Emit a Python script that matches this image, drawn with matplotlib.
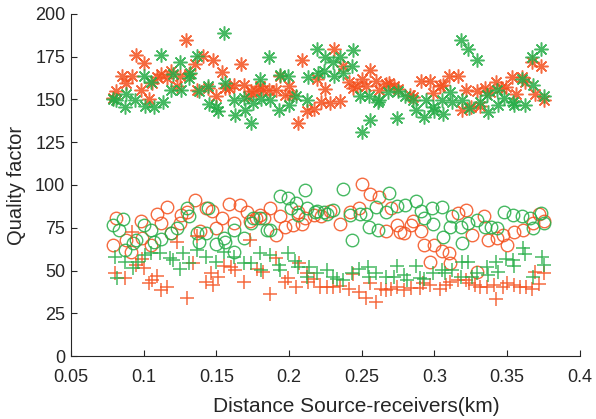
# Quality factor vs. source-receiver distance, two colour groups, three marker families
import matplotlib.pyplot as plt

plt.rcParams['font.family'] = ['Liberation Sans', 'DejaVu Sans']

red = '#f4511e'
green = '#26ad47'

# --- asterisks (upper band) ---
red_star_x = [0.079, 0.081, 0.085, 0.088, 0.092, 0.095, 0.098, 0.100, 0.104, 0.106, 0.109, 0.112, 0.116, 0.119,
              0.125, 0.123, 0.129, 0.131, 0.135, 0.137, 0.141, 0.144, 0.148, 0.150, 0.154, 0.156, 0.159, 0.162,
              0.167, 0.169, 0.172, 0.174, 0.177, 0.180, 0.182, 0.186, 0.191, 0.194, 0.197, 0.200, 0.202, 0.206,
              0.209, 0.212, 0.217, 0.219, 0.222, 0.225, 0.228, 0.231, 0.235, 0.237, 0.241, 0.244, 0.247, 0.250,
              0.253, 0.256, 0.260, 0.262, 0.267, 0.269, 0.272, 0.275, 0.283, 0.285, 0.291, 0.297, 0.299, 0.304,
              0.306, 0.310, 0.316, 0.319, 0.322, 0.325, 0.329, 0.331, 0.335, 0.338, 0.342, 0.346, 0.349, 0.353,
              0.356, 0.360, 0.362, 0.367, 0.369, 0.373, 0.375]
red_star_y = [150.8, 154.7, 163.9, 159.6, 163.5, 176.2, 155.7, 171.3, 150.3, 159.6, 163.1, 165.1, 162.5, 166.4,
              163.5, 157.7, 185.0, 165.1, 170.4, 155.7, 175.6, 156.7, 172.9, 152.2, 165.9, 156.7, 156.7, 158.6,
              170.9, 158.6, 152.2, 154.7, 154.7, 157.7, 155.7, 155.7, 155.7, 163.9, 152.8, 157.7, 152.8, 136.2,
              172.9, 143.0, 144.4, 161.9, 148.3, 156.1, 147.9, 179.5, 148.9, 169.4, 160.0, 156.7, 158.1, 161.9,
              157.7, 167.4, 160.6, 155.7, 159.2, 159.6, 158.1, 156.1, 152.8, 151.4, 160.6, 160.6, 153.8, 157.7,
              158.6, 163.9, 163.9, 143.6, 155.3, 145.6, 154.7, 146.4, 156.7, 154.2, 160.0, 156.7, 157.3, 163.1,
              153.4, 163.1, 160.0, 171.7, 153.4, 169.4, 149.9]

green_star_x = [0.079, 0.081, 0.087, 0.088, 0.094, 0.100, 0.101, 0.105, 0.107, 0.112, 0.113, 0.119, 0.120, 0.125,
                0.126, 0.131, 0.132, 0.137, 0.138, 0.144, 0.145, 0.150, 0.151, 0.155, 0.156, 0.162, 0.163, 0.169,
                0.170, 0.174, 0.175, 0.180, 0.181, 0.186, 0.187, 0.193, 0.194, 0.199, 0.200, 0.205, 0.212, 0.213,
                0.219, 0.220, 0.224, 0.225, 0.230, 0.231, 0.235, 0.237, 0.243, 0.244, 0.249, 0.250, 0.255, 0.256,
                0.261, 0.262, 0.268, 0.274, 0.275, 0.280, 0.285, 0.287, 0.293, 0.294, 0.299, 0.300, 0.305, 0.306,
                0.311, 0.312, 0.318, 0.319, 0.323, 0.324, 0.329, 0.331, 0.336, 0.337, 0.343, 0.344, 0.348, 0.354,
                0.355, 0.360, 0.362, 0.367, 0.368, 0.373, 0.375]
green_star_y = [150.2, 149.9, 145.6, 153.4, 149.9, 163.9, 146.4, 160.0, 145.6, 176.2, 148.3, 155.3, 165.1, 171.7,
                155.3, 162.5, 165.5, 175.6, 154.7, 157.7, 147.5, 145.6, 143.0, 188.9, 159.6, 149.9, 141.1, 150.8,
                144.0, 136.2, 147.9, 161.9, 150.2, 174.8, 149.5, 144.0, 164.5, 163.9, 146.9, 151.8, 149.9, 163.1,
                179.5, 165.5, 166.4, 174.8, 171.7, 163.9, 174.8, 165.5, 169.8, 178.7, 151.8, 130.7, 151.8, 137.8,
                148.3, 149.9, 154.2, 139.1, 154.7, 151.8, 149.5, 144.0, 139.7, 149.9, 145.6, 143.0, 149.9, 141.7,
                154.2, 148.3, 184.6, 149.9, 179.5, 145.0, 172.9, 148.3, 152.8, 142.4, 155.7, 146.9, 150.8, 148.3,
                146.9, 161.9, 146.9, 174.8, 158.6, 179.5, 152.2]

# --- circles (middle band) ---
red_circ_x = [0.079, 0.081, 0.088, 0.098, 0.099, 0.105, 0.109, 0.112, 0.116, 0.119, 0.125, 0.126, 0.130, 0.135,
              0.139, 0.143, 0.147, 0.150, 0.154, 0.159, 0.162, 0.166, 0.171, 0.173, 0.177, 0.180, 0.183, 0.187,
              0.191, 0.194, 0.197, 0.203, 0.206, 0.209, 0.211, 0.217, 0.222, 0.228, 0.235, 0.242, 0.248, 0.250,
              0.256, 0.262, 0.267, 0.270, 0.274, 0.276, 0.279, 0.284, 0.285, 0.291, 0.293, 0.300, 0.305, 0.310,
              0.316, 0.322, 0.326, 0.334, 0.337, 0.343, 0.347, 0.350, 0.355, 0.361, 0.368, 0.372, 0.375,
              0.091, 0.311, 0.297, 0.329]
red_circ_y = [65.0, 81.0, 67.9, 79.1, 68.9, 65.0, 82.9, 77.7, 86.9, 71.8, 77.7, 82.2, 84.1, 91.3,
              73.2, 86.5, 84.9, 74.8, 80.6, 88.8, 77.7, 88.4, 84.5, 78.7, 81.0, 82.2, 80.6, 86.5,
              70.8, 81.6, 75.7, 76.7, 84.1, 77.1, 81.0, 82.2, 81.6, 84.9, 77.1, 84.5, 86.5, 100.5,
              94.7, 92.7, 73.2, 86.5, 76.7, 72.8, 71.8, 76.7, 78.7, 73.2, 65.0, 65.0, 61.5, 60.1,
              83.5, 85.5, 70.5, 81.6, 67.9, 68.9, 70.8, 65.0, 72.8, 73.8, 77.7, 82.9, 78.7,
              61.1, 54.3, 55.2, 49.4]

green_circ_x = [0.079, 0.083, 0.086, 0.093, 0.095, 0.100, 0.105, 0.107, 0.112, 0.119, 0.123, 0.130, 0.131, 0.137,
                0.138, 0.143, 0.144, 0.150, 0.155, 0.156, 0.162, 0.169, 0.174, 0.175, 0.180, 0.185, 0.187, 0.194,
                0.199, 0.201, 0.205, 0.206, 0.211, 0.212, 0.218, 0.219, 0.224, 0.226, 0.230, 0.237, 0.242, 0.243,
                0.249, 0.253, 0.255, 0.260, 0.261, 0.267, 0.269, 0.274, 0.280, 0.287, 0.291, 0.293, 0.298, 0.299,
                0.305, 0.306, 0.312, 0.311, 0.318, 0.319, 0.323, 0.329, 0.335, 0.339, 0.343, 0.348, 0.354, 0.360,
                0.366, 0.368, 0.373, 0.375, 0.162, 0.087]
green_circ_y = [76.7, 73.8, 80.2, 66.0, 67.9, 76.7, 73.8, 66.9, 68.5, 71.8, 74.8, 86.5, 81.6, 71.8,
                66.9, 71.8, 86.5, 65.4, 68.9, 66.9, 73.8, 68.9, 77.7, 81.0, 80.6, 73.8, 73.8, 93.3,
                92.3, 86.5, 89.4, 82.6, 97.2, 86.5, 84.1, 84.9, 84.5, 82.9, 85.5, 97.8, 82.2, 67.9,
                82.9, 82.9, 75.7, 87.4, 73.8, 84.5, 95.2, 88.0, 88.4, 90.4, 84.9, 81.0, 86.5, 77.1,
                87.4, 69.9, 81.6, 75.7, 75.7, 66.0, 77.7, 79.6, 75.7, 75.7, 74.8, 84.1, 82.2, 81.6,
                80.6, 74.8, 83.5, 77.7, 61.1, 62.1]

# --- plus signs (lower band) ---
red_plus_x = [0.080, 0.087, 0.092, 0.095, 0.099, 0.100, 0.104, 0.106, 0.109, 0.112, 0.116, 0.123, 0.130, 0.134,
              0.137, 0.143, 0.146, 0.148, 0.151, 0.155, 0.160, 0.163, 0.169, 0.173, 0.178, 0.182, 0.187, 0.191,
              0.197, 0.199, 0.205, 0.207, 0.212, 0.213, 0.217, 0.221, 0.226, 0.230, 0.235, 0.241, 0.244, 0.248,
              0.253, 0.256, 0.260, 0.263, 0.267, 0.270, 0.274, 0.279, 0.284, 0.290, 0.292, 0.297, 0.304, 0.308,
              0.311, 0.316, 0.322, 0.324, 0.328, 0.331, 0.336, 0.342, 0.341, 0.347, 0.350, 0.355, 0.359, 0.363,
              0.367, 0.369, 0.372, 0.375]
red_plus_y = [48.8, 45.5, 72.8, 53.3, 56.6, 51.3, 42.9, 44.5, 46.8, 38.6, 40.6, 66.9, 33.8, 54.3,
              70.3, 43.5, 48.4, 41.6, 46.4, 52.7, 52.3, 50.3, 43.5, 67.9, 50.7, 49.4, 36.3, 57.2,
              43.5, 45.5, 40.6, 54.3, 48.4, 43.5, 44.9, 40.6, 40.6, 40.6, 41.0, 39.0, 48.0, 37.7,
              33.8, 42.5, 31.8, 39.0, 38.6, 39.0, 40.2, 38.6, 39.6, 39.6, 42.5, 41.6, 39.0, 41.6,
              43.5, 44.5, 44.5, 42.5, 41.6, 40.6, 40.6, 33.2, 41.6, 40.6, 42.9, 41.6, 40.6, 40.2,
              39.0, 49.4, 42.2, 48.4]

green_plus_x = [0.080, 0.082, 0.087, 0.093, 0.096, 0.101, 0.105, 0.111, 0.118, 0.120, 0.125, 0.127, 0.131, 0.137,
                0.143, 0.150, 0.155, 0.162, 0.169, 0.174, 0.180, 0.181, 0.187, 0.194, 0.193, 0.199, 0.204, 0.206,
                0.212, 0.214, 0.219, 0.226, 0.230, 0.233, 0.237, 0.243, 0.248, 0.254, 0.255, 0.260, 0.267, 0.272,
                0.274, 0.279, 0.281, 0.287, 0.290, 0.293, 0.299, 0.305, 0.307, 0.312, 0.318, 0.319, 0.323, 0.326,
                0.329, 0.336, 0.337, 0.342, 0.344, 0.349, 0.354, 0.355, 0.361, 0.362, 0.368, 0.374, 0.375]
green_plus_y = [58.2, 45.5, 55.2, 51.3, 55.2, 59.1, 60.1, 60.1, 57.2, 56.2, 50.7, 60.1, 54.3, 62.1,
                58.2, 55.2, 61.1, 58.2, 54.3, 54.3, 60.1, 50.3, 59.1, 50.3, 53.3, 60.1, 55.8, 52.3,
                46.4, 52.3, 48.4, 50.3, 46.4, 44.9, 44.5, 48.8, 50.7, 52.3, 46.4, 48.8, 46.4, 46.4,
                52.7, 47.4, 44.5, 52.7, 45.5, 44.9, 48.4, 50.3, 48.8, 50.3, 46.0, 55.2, 55.2, 46.4,
                48.8, 52.3, 47.4, 55.2, 49.4, 56.6, 56.2, 52.7, 63.0, 59.7, 46.4, 58.2, 53.3]

fig = plt.figure(figsize=(5.96, 4.19), dpi=100)
ax = fig.add_axes([0.119, 0.150, 0.854, 0.817])

star = (8, 2, 0)
ax.plot(red_star_x, red_star_y, linestyle='none', marker=star, ms=10, mew=1.1, color=red, alpha=0.85)
ax.plot(green_star_x, green_star_y, linestyle='none', marker=star, ms=10, mew=1.1, color=green, alpha=0.85)
ax.plot(red_circ_x, red_circ_y, linestyle='none', marker='o', ms=9, mew=1.0, mfc='none', mec=red, alpha=0.85)
ax.plot(green_circ_x, green_circ_y, linestyle='none', marker='o', ms=9, mew=1.0, mfc='none', mec=green, alpha=0.85)
ax.plot(red_plus_x, red_plus_y, linestyle='none', marker='+', ms=10, mew=1.1, color=red, alpha=0.85)
ax.plot(green_plus_x, green_plus_y, linestyle='none', marker='+', ms=10, mew=1.1, color=green, alpha=0.85)

ax.set_xlim(0.05, 0.4)
ax.set_ylim(0, 200)
ax.set_xticks([0.05, 0.1, 0.15, 0.2, 0.25, 0.3, 0.35, 0.4])
ax.set_xticklabels(['0.05', '0.1', '0.15', '0.2', '0.25', '0.3', '0.35', '0.4'])
ax.set_yticks(range(0, 201, 25))
ax.spines['top'].set_visible(False)
ax.spines['right'].set_visible(False)
for s in ['left', 'bottom']:
    ax.spines[s].set_color('#262626')
ax.tick_params(direction='in', length=4, labelsize=13, colors='#262626')
ax.tick_params(axis='x', pad=9)
ax.tick_params(axis='y', pad=4)
ax.set_xlabel('Distance Source-receivers(km)', fontsize=15, color='#262626')
ax.set_ylabel('Quality factor', fontsize=14.5, color='#262626')
ax.xaxis.set_label_coords(0.56, -0.118)
ax.yaxis.set_label_coords(-0.088, 0.5)

plt.savefig('out.png')
